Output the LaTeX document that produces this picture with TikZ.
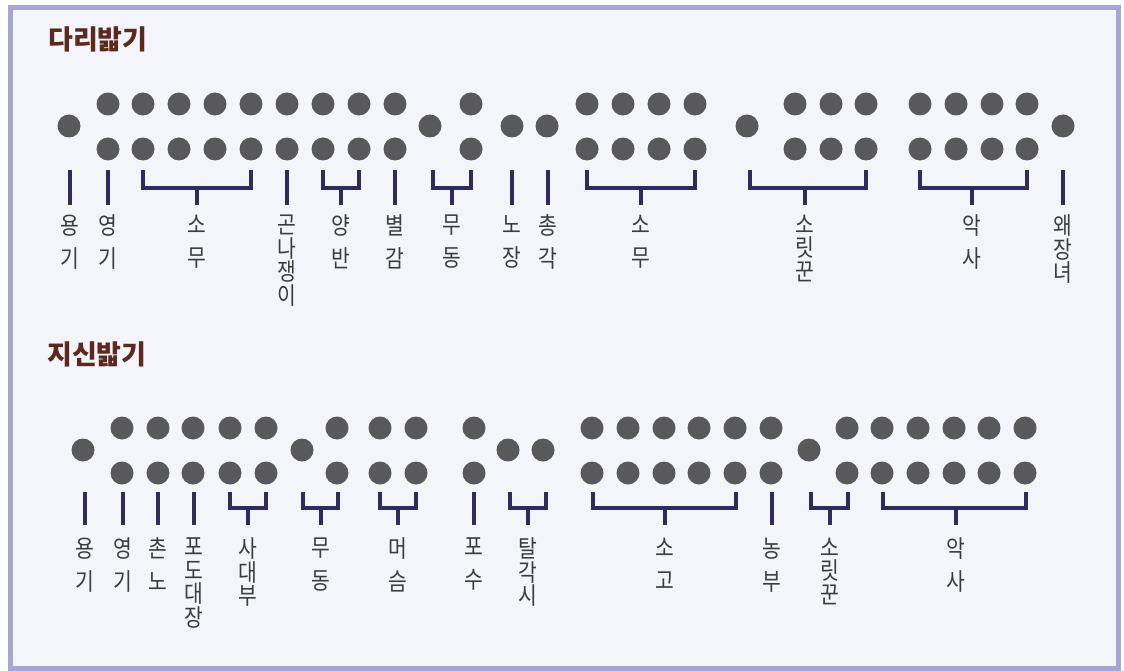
\documentclass[tikz,border=0pt]{standalone}
\usepackage{fontspec}
\newfontfamily\kr{Noto Sans CJK KR}
\newfontfamily\krlbl[FakeStretch=0.85]{Noto Sans CJK KR}
\definecolor{framelav}{HTML}{A9A4D6}
\definecolor{paper}{HTML}{F3F5FB}
\definecolor{dotgray}{HTML}{59595C}
\definecolor{rulenavy}{HTML}{2E2C5E}
\definecolor{labelgray}{HTML}{3C3C3C}
\definecolor{titlebrown}{HTML}{5C2A1C}

\begin{document}
\begin{tikzpicture}[x=1pt, y=-1pt, line join=miter,
    rule/.style={draw=rulenavy, line width=3.2pt},
    lbl/.style={anchor=north, align=center, inner sep=0pt, text=labelgray,
      font=\krlbl\fontsize{24}{23.5}\selectfont},
    toplbl/.style={lbl, outer ysep=10pt},
    botlbl/.style={lbl, outer ysep=13pt},
    heading/.style={anchor=west, inner sep=0pt, text=titlebrown,
      font=\kr\bfseries\fontsize{27}{30}\selectfont}]
  \useasboundingbox (0,0) rectangle (1124,671);
  \fill[white] (0,0) rectangle (1124,671);
  \draw[framelav, line width=5pt, fill=paper] (10,8) rectangle (1118,668);

  % 다리밟기
  \node[heading] (dari) at (48,39) {다리밟기};
  \foreach \x in {108,143,179,215,251,287,323,359,395,471,587,623,659,695,795,831,866,920,956,992,1027} {
    \fill[dotgray] (\x,104) circle (11.5);
    \fill[dotgray] (\x,149) circle (11.5);
  }
  \foreach \x in {69,430,512,547,747,1063}
    \fill[dotgray] (\x,126) circle (11.5);

  \node[toplbl] (d-yonggi) at (70,205)   {용\\[9.5pt]기};
  \node[toplbl] (d-yeonggi) at (108,205) {영\\[9.5pt]기};
  \node[toplbl] (d-somu1) at (197,205)   {소\\[9.5pt]무};
  \node[toplbl] (d-gon) at (287,205)     {곤\\나\\쟁\\이};
  \node[toplbl] (d-yangban) at (341,205) {양\\[9.5pt]반};
  \node[toplbl] (d-byeol) at (395,205)   {별\\[9.5pt]감};
  \node[toplbl] (d-mudong) at (452,205)  {무\\[9.5pt]동};
  \node[toplbl] (d-nojang) at (512,205)  {노\\[9.5pt]장};
  \node[toplbl] (d-chong) at (548,205)   {총\\[9.5pt]각};
  \node[toplbl] (d-somu2) at (641,205)   {소\\[9.5pt]무};
  \node[toplbl] (d-sori) at (805,205)    {소\\릿\\꾼};
  \node[toplbl] (d-aksa) at (972,205)    {악\\[9.5pt]사};
  \node[toplbl] (d-wae) at (1063,205)    {왜\\장\\녀};

  % 외줄
  \draw[rule] (70,170) -- (d-yonggi.north);
  \draw[rule] (108,170) -- (d-yeonggi.north);
  \draw[rule] (287,170) -- (d-gon.north);
  \draw[rule] (395,170) -- (d-byeol.north);
  \draw[rule] (512,170) -- (d-nojang.north);
  \draw[rule] (548,170) -- (d-chong.north);
  \draw[rule] (1063,170) -- (d-wae.north);
  % 묶음
  \draw[rule] (143,170) |- (251,188) -- (251,170);
  \draw[rule] (197,188) -- (d-somu1.north);
  \draw[rule] (323,170) |- (359,188) -- (359,170);
  \draw[rule] (341,188) -- (d-yangban.north);
  \draw[rule] (433,170) |- (471,188) -- (471,170);
  \draw[rule] (452,188) -- (d-mudong.north);
  \draw[rule] (587,170) |- (695,188) -- (695,170);
  \draw[rule] (641,188) -- (d-somu2.north);
  \draw[rule] (750,170) |- (866,188) -- (866,170);
  \draw[rule] (805,188) -- (d-sori.north);
  \draw[rule] (920,170) |- (1027,188) -- (1027,170);
  \draw[rule] (972,188) -- (d-aksa.north);

  % 지신밟기
  \node[heading] (jisin) at (47,354) {지신밟기};
  \foreach \x in {122,158,193,230,266,337,380,416,474,592,628,664,699,735,771,847,882,918,954,989,1025} {
    \fill[dotgray] (\x,428) circle (11.5);
    \fill[dotgray] (\x,473) circle (11.5);
  }
  \foreach \x in {83,302,508,543,809}
    \fill[dotgray] (\x,450) circle (11.5);

  \node[botlbl] (j-yonggi) at (85,525)   {용\\[9.5pt]기};
  \node[botlbl] (j-yeonggi) at (123,525) {영\\[9.5pt]기};
  \node[botlbl] (j-chonno) at (158,525)  {촌\\[9.5pt]노};
  \node[botlbl] (j-podo) at (194,525)    {포\\도\\대\\장};
  \node[botlbl] (j-sadae) at (248,525)   {사\\대\\부};
  \node[botlbl] (j-mudong) at (321,525)  {무\\[9.5pt]동};
  \node[botlbl] (j-meoseum) at (398,525) {머\\[9.5pt]슴};
  \node[botlbl] (j-posu) at (474,525)    {포\\[9.5pt]수};
  \node[botlbl] (j-tal) at (528,525)     {탈\\각\\시};
  \node[botlbl] (j-sogo) at (665,525)    {소\\[9.5pt]고};
  \node[botlbl] (j-nongbu) at (772,525)  {농\\[9.5pt]부};
  \node[botlbl] (j-sori) at (830,525)    {소\\릿\\꾼};
  \node[botlbl] (j-aksa) at (956,525)    {악\\[9.5pt]사};

  % 외줄
  \draw[rule] (85,492) -- (j-yonggi.north);
  \draw[rule] (123,492) -- (j-yeonggi.north);
  \draw[rule] (158,492) -- (j-chonno.north);
  \draw[rule] (194,492) -- (j-podo.north);
  \draw[rule] (474,492) -- (j-posu.north);
  \draw[rule] (772,492) -- (j-nongbu.north);
  % 묶음
  \draw[rule] (230,492) |- (266,508) -- (266,492);
  \draw[rule] (248,508) -- (j-sadae.north);
  \draw[rule] (303,492) |- (338,508) -- (338,492);
  \draw[rule] (321,508) -- (j-mudong.north);
  \draw[rule] (380,492) |- (416,508) -- (416,492);
  \draw[rule] (398,508) -- (j-meoseum.north);
  \draw[rule] (510,492) |- (546,508) -- (546,492);
  \draw[rule] (528,508) -- (j-tal.north);
  \draw[rule] (593,492) |- (736,508) -- (736,492);
  \draw[rule] (665,508) -- (j-sogo.north);
  \draw[rule] (811,492) |- (848,508) -- (848,492);
  \draw[rule] (830,508) -- (j-sori.north);
  \draw[rule] (883,492) |- (1026,508) -- (1026,492);
  \draw[rule] (956,508) -- (j-aksa.north);
\end{tikzpicture}
\end{document}
